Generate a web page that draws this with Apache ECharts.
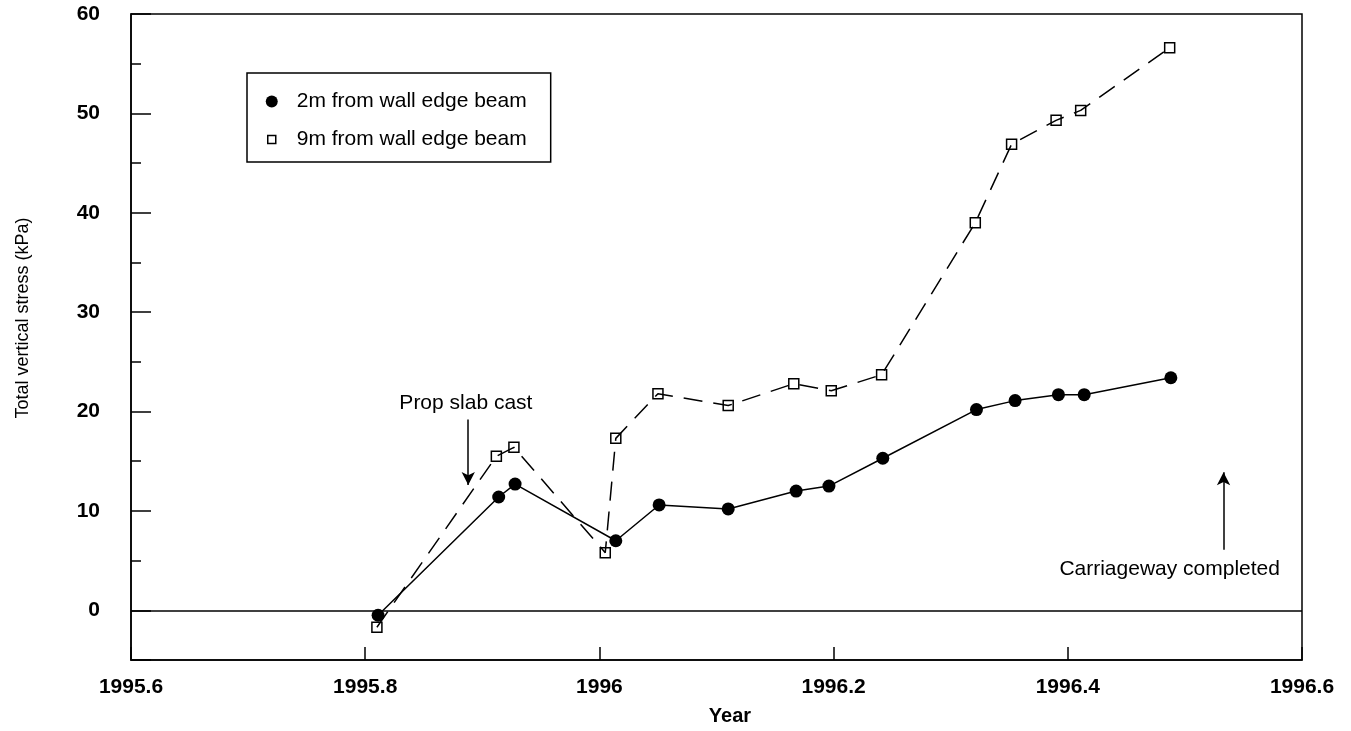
<!DOCTYPE html>
<html>
<head>
<meta charset="utf-8">
<title>Total vertical stress</title>
<script src="https://cdn.jsdelivr.net/npm/echarts@6/dist/echarts.min.js"></script>
<style>
  html, body { margin: 0; padding: 0; background: #fff; }
  #chart { width: 1351px; height: 731px; }
</style>
</head>
<body>
<div id="chart"></div>
<script>
// Measurement series: decimal year and total vertical stress (kPa)
const years2m  = [1995.811, 1995.914, 1995.928, 1996.014, 1996.051, 1996.110, 1996.168, 1996.196, 1996.242, 1996.322, 1996.355, 1996.392, 1996.414, 1996.488];
const stress2m = [-0.5, 11.4, 12.7, 7.0, 10.6, 10.2, 12.0, 12.5, 15.3, 20.2, 21.1, 21.7, 21.7, 23.4];

const years9m  = [1995.810, 1995.912, 1995.927, 1996.005, 1996.014, 1996.050, 1996.110, 1996.166, 1996.198, 1996.241, 1996.321, 1996.352, 1996.390, 1996.411, 1996.487];
const stress9m = [-1.7, 15.5, 16.4, 5.8, 17.3, 21.8, 20.6, 22.8, 22.1, 23.7, 39.0, 46.9, 49.3, 50.3, 56.6];

const seriesNames = ['2m from wall edge beam', '9m from wall edge beam'];

// Construction events: label anchor and arrow (from -> tip), in data units
const noteText  = ['Prop slab cast', 'Carriageway completed'];
const noteAt    = [[1995.886, 20.8], [1996.487, 4.1]];
const arrowFrom = [[1995.888, 19.2], [1996.533, 6.1]];
const arrowTo   = [[1995.888, 12.6], [1996.533, 13.9]];

const FONT = '"Liberation Sans", Arial, Helvetica, sans-serif';

const pairs = (xs, ys) => xs.map((x, i) => [x, ys[i]]);

const chart = echarts.init(document.getElementById('chart'), null, { renderer: 'canvas' });

// small open square, padded inside a 12x12 box so it reads smaller than the dot
const squareIcon = 'path://M0,0M2,2L10,2L10,10L2,10ZM12,12';

chart.setOption({
  animation: false,
  backgroundColor: '#fff',
  textStyle: { fontFamily: FONT, color: '#000' },
  grid: {
    left: 131, right: 49, top: 14, bottom: 70,
    show: true, borderColor: '#000', borderWidth: 1.5, backgroundColor: 'transparent'
  },
  legend: {
    orient: 'vertical',
    left: 247, top: 73,
    padding: [18, 24, 12, 18],
    itemGap: 17,
    itemWidth: 12, itemHeight: 12,
    borderColor: '#000', borderWidth: 1.5,
    selectedMode: false,
    textStyle: { fontFamily: FONT, fontSize: 21, color: '#000', padding: [0, 0, 0, 14] },
    data: [
      { name: seriesNames[0], icon: 'circle', itemStyle: { color: '#000', borderWidth: 0 } },
      { name: seriesNames[1], icon: squareIcon,
        itemStyle: { color: 'rgba(0,0,0,0)', borderColor: '#000', borderWidth: 1.5 } }
    ]
  },
  xAxis: {
    type: 'value',
    min: 1995.6, max: 1996.6, interval: 0.2,
    name: 'Year',
    nameLocation: 'middle',
    nameGap: 46,
    nameTextStyle: { fontFamily: FONT, fontSize: 20, fontWeight: 'bold', color: '#000', padding: [0, 0, 0, 27] },
    axisLine: { show: true, onZero: false, lineStyle: { color: '#000', width: 1.5 } },
    axisTick: { show: true, inside: true, length: 13, lineStyle: { color: '#000', width: 1.5 } },
    axisLabel: {
      fontFamily: FONT, fontSize: 21, fontWeight: 'bold', color: '#000', margin: 17,
      formatter: v => String(parseFloat(v.toFixed(1)))
    },
    splitLine: { show: false }
  },
  yAxis: {
    type: 'value',
    min: -5, max: 60,
    name: 'Total vertical stress (kPa)',
    nameLocation: 'middle',
    nameRotate: 90,
    nameGap: 99,
    nameTextStyle: { fontFamily: FONT, fontSize: 18, color: '#000', padding: [0, 0, 0, 38] },
    axisLine: { show: true, onZero: false, lineStyle: { color: '#000', width: 1.5 } },
    axisTick: { show: true, inside: true, length: 20, lineStyle: { color: '#000', width: 1.5 } },
    minorTick: { show: true, splitNumber: 2, length: 10, lineStyle: { color: '#000', width: 1.5 } },
    axisLabel: {
      fontFamily: FONT, fontSize: 21, fontWeight: 'bold', color: '#000', margin: 31,
      formatter: v => (v % 10 === 0 ? String(v) : '')
    },
    splitLine: { show: false },
    minorSplitLine: { show: false }
  },
  series: [
    {
      name: seriesNames[1],
      type: 'line',
      data: pairs(years9m, stress9m),
      symbol: 'rect',
      symbolSize: 10,
      showAllSymbol: true,
      itemStyle: { color: 'rgba(0,0,0,0)', borderColor: '#000', borderWidth: 1.5 },
      lineStyle: { color: '#000', width: 1.5, type: [19, 11] },
      z: 2
    },
    {
      name: seriesNames[0],
      type: 'line',
      data: pairs(years2m, stress2m),
      symbol: 'circle',
      symbolSize: 13,
      showAllSymbol: true,
      itemStyle: { color: '#000', borderWidth: 0 },
      lineStyle: { color: '#000', width: 1.5, type: 'solid' },
      z: 3,
      markLine: {
        silent: true,
        animation: false,
        label: { show: false },
        data: [
          // zero reference line
          [{ coord: [1995.6, 0], symbol: 'none' }, { coord: [1996.6, 0], symbol: 'none' }],
          // event arrows
          ...arrowFrom.map((p, i) => [
            { coord: p, symbol: 'none' },
            { coord: arrowTo[i], symbol: 'arrow', symbolSize: [10, 13] }
          ])
        ],
        lineStyle: { color: '#000', width: 1.5, type: 'solid' }
      },
      markPoint: {
        silent: true,
        animation: false,
        symbol: 'rect',
        symbolSize: 1,
        itemStyle: { color: 'rgba(0,0,0,0)' },
        label: {
          show: true, position: 'inside',
          fontFamily: FONT, fontSize: 21, color: '#000',
          formatter: p => p.name
        },
        data: noteText.map((t, i) => ({ name: t, coord: noteAt[i] }))
      }
    }
  ]
});
</script>
</body>
</html>
